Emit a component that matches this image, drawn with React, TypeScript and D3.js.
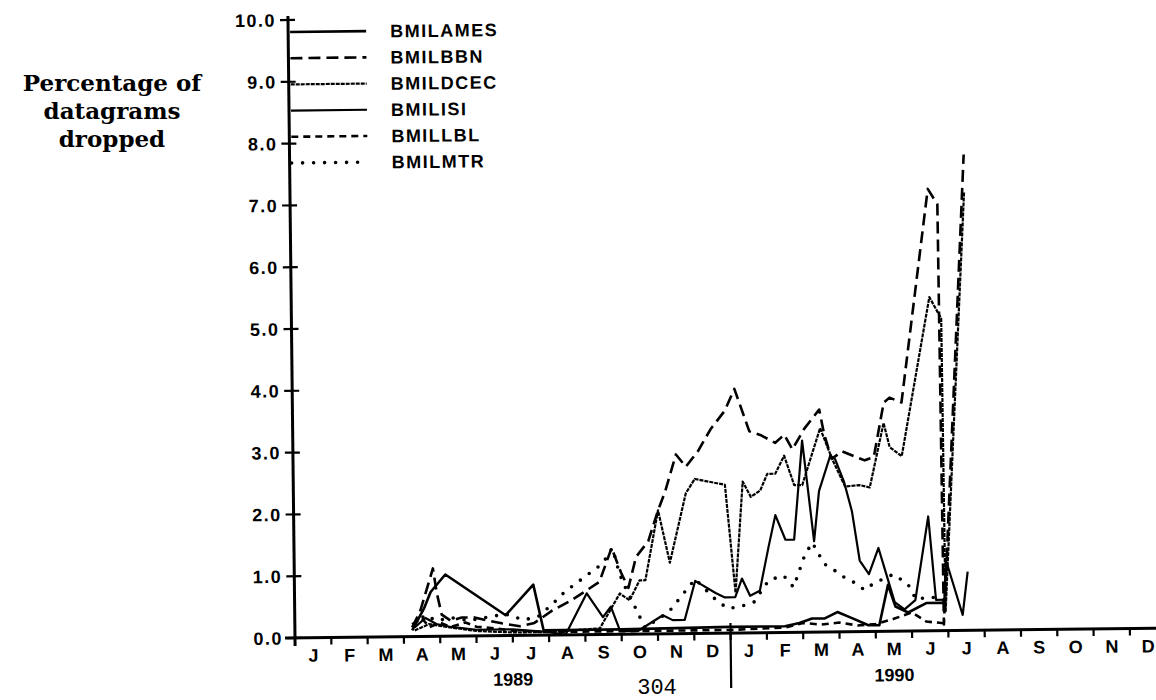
import React from 'react';
import * as d3 from 'd3';

// [months since 1 Jan 1989, percent of datagrams dropped]
type Pt = [number, number];

const monthLabels = ['J', 'F', 'M', 'A', 'M', 'J', 'J', 'A', 'S', 'O', 'N', 'D'];
const yearLabels = ['1989', '1990'];
const yearLabelMonth = [6, 16.5];
const yTicks = [0, 1, 2, 3, 4, 5, 6, 7, 8, 9, 10];
const seriesNames = ['BMILAMES', 'BMILBBN', 'BMILDCEC', 'BMILISI', 'BMILLBL', 'BMILMTR'];
const axisTitle = ['Percentage of', 'datagrams', 'dropped'];

const amesData: Pt[] = [
  [3.23, 0.1], [3.56, 0.45], [3.75, 0.72], [4.16, 1.0], [5.81, 0.33], [6.58, 0.82], [6.85, 0.08],
  [9, 0.08], [12, 0.1], [13.5, 0.1], [13.9, 0.15], [14.25, 0.22], [14.6, 0.22], [14.95, 0.32],
  [15.35, 0.22], [15.8, 0.1], [16.1, 0.1], [16.35, 0.75], [16.55, 0.4], [16.9, 0.3], [17.4, 0.45], [17.88, 0.45],
];

const bbnData: Pt[] = [
  [3.23, 0.15], [3.45, 0.4], [3.82, 1.1], [3.92, 0.7], [4.05, 0.35], [4.3, 0.25], [4.6, 0.3], [4.95, 0.3],
  [5.3, 0.25], [5.7, 0.2], [6.2, 0.15], [6.6, 0.2], [7.1, 0.4], [7.6, 0.55], [8.0, 0.7], [8.4, 0.85],
  [8.75, 1.4], [9.0, 1.0], [9.2, 0.75], [9.42, 1.25], [9.76, 1.5], [10.04, 2.0], [10.24, 2.3], [10.55, 2.9],
  [10.82, 2.7], [11.16, 2.95], [11.51, 3.3], [11.91, 3.6], [12.18, 3.95], [12.58, 3.26], [12.88, 3.2],
  [13.29, 3.07], [13.54, 3.2], [13.76, 2.96], [14.09, 3.29], [14.51, 3.6], [14.64, 3.2], [14.84, 2.8],
  [15.13, 2.92], [15.45, 2.84], [15.75, 2.77], [16.0, 2.82], [16.29, 3.7], [16.45, 3.78], [16.78, 3.7],
  [17.57, 7.15], [17.83, 6.9], [17.88, 0.1], [18.57, 7.7],
];

const dcecData: Pt[] = [
  [3.3, 0.1], [3.7, 0.2], [4.2, 0.15], [5, 0.08], [6, 0.05], [7, 0.05], [8.4, 0.1],
  [8.96, 0.66], [9.23, 0.55], [9.51, 0.87], [9.67, 0.87], [10.04, 2.0], [10.35, 1.15], [10.81, 2.27],
  [11.06, 2.5], [11.89, 2.4], [12.15, 0.65], [12.38, 2.45], [12.6, 2.2], [12.86, 2.3], [13.06, 2.57],
  [13.28, 2.57], [13.53, 2.86], [13.8, 2.38], [14.02, 2.38], [14.53, 3.3], [14.85, 2.8], [15.2, 2.35],
  [15.6, 2.37], [15.88, 2.33], [16.28, 3.37], [16.44, 2.98], [16.77, 2.83], [17.58, 5.4], [17.9, 5.05],
  [17.93, 0.3], [18.57, 7.1],
];

const isiData: Pt[] = [
  [3.3, 0.15], [3.6, 0.3], [3.9, 0.2], [4.3, 0.15], [5, 0.1], [6, 0.1], [7, 0.05],
  [7.45, 0.0], [8.05, 0.67], [8.49, 0.28], [8.71, 0.45], [8.96, 0.05], [9.45, 0.05], [10.14, 0.3],
  [10.41, 0.22], [10.74, 0.22], [11.04, 0.85], [11.6, 0.65], [11.84, 0.58], [12.14, 0.58], [12.33, 0.88],
  [12.55, 0.6], [12.82, 0.68], [13.07, 1.38], [13.27, 1.9], [13.54, 1.5], [13.78, 1.5], [14.03, 3.1],
  [14.33, 1.47], [14.48, 2.28], [14.8, 2.85], [14.93, 2.8], [15.17, 2.43], [15.38, 1.95], [15.58, 1.15],
  [15.83, 0.93], [16.1, 1.35], [16.32, 0.9], [16.53, 0.47], [16.8, 0.35], [17.1, 0.5], [17.48, 1.85],
  [17.67, 0.5], [17.9, 0.5], [17.95, 1.15], [18.4, 0.25], [18.55, 0.95],
];

const lblData: Pt[] = [
  [3.23, 0.2], [3.5, 0.3], [3.7, 0.15], [4.0, 0.22], [4.3, 0.15], [4.7, 0.22], [5.0, 0.15], [5.5, 0.12],
  [6.0, 0.08], [7, 0.05], [9, 0.05], [11, 0.05], [12, 0.05], [13.5, 0.08], [14.0, 0.15], [14.5, 0.12],
  [15.0, 0.15], [15.5, 0.1], [16.0, 0.12], [16.5, 0.2], [17.0, 0.3], [17.4, 0.15], [17.88, 0.12],
];

const mtrData: Pt[] = [
  [3.3, 0.2], [3.6, 0.35], [3.9, 0.25], [4.3, 0.3], [4.8, 0.25], [5.3, 0.3], [5.8, 0.35], [6.3, 0.25],
  [6.7, 0.3], [7.1, 0.5], [7.45, 0.7], [7.8, 0.85], [8.15, 1.0], [8.5, 1.15], [8.77, 1.4], [8.96, 0.98],
  [9.12, 0.75], [9.45, 0.35], [9.64, 0.1], [10.3, 0.35], [11.04, 0.88], [11.59, 0.55], [11.92, 0.4],
  [12.25, 0.42], [12.66, 0.5], [13.07, 0.85], [13.48, 0.92], [13.75, 0.73], [14.07, 1.25], [14.28, 1.45],
  [14.6, 1.1], [14.81, 1.03], [15.09, 0.9], [15.41, 0.8], [15.71, 0.67], [15.96, 0.78], [16.5, 0.92],
  [16.9, 0.76], [17.12, 0.51], [17.5, 0.55], [18.14, 0.47],
];

const allSeries = [amesData, bbnData, dcecData, isiData, lblData, mtrData];

// line look for each series, same order as seriesNames
const styles = [
  { width: 2.6, dash: undefined as string | undefined, cap: 'butt' },
  { width: 2.6, dash: '12 6', cap: 'butt' },
  { width: 2.2, dash: '4 1', cap: 'butt' },
  { width: 2.2, dash: undefined, cap: 'butt' },
  { width: 2.6, dash: '7 5', cap: 'butt' },
  { width: 3.6, dash: '0 11', cap: 'round' },
];

const labelFont = '"Liberation Sans", Arial, sans-serif';

const App = () => {
  const x = d3.scaleLinear().domain([0, 24]).range([295, 295 + 36.3 * 24]);
  const y = d3.scaleLinear().domain([0, 10]).range([638, 20]);
  const line = d3.line<Pt>().x(d => x(d[0])).y(d => y(d[1]));

  const x0 = x(0);
  const y0 = y(0);

  return (
    <svg width={1156} height={700} style={{ position: 'absolute', left: 0, top: 0, background: '#fff' }}>
      <g fontFamily='"DejaVu Serif", serif' fontWeight="bold" fontSize={23} textAnchor="middle" fill="#000">
        {axisTitle.map((t, i) => (
          <text key={t} x={112} y={91 + 28 * i}>{t}</text>
        ))}
      </g>

      {/* the scan is tilted a little */}
      <g transform={`rotate(-0.65 ${x0} ${y0})`}>
        {/* y axis */}
        <line x1={x0} x2={x0} y1={y(10) - 4} y2={y0 + 8} stroke="#000" strokeWidth={3} />
        {yTicks.map(v => (
          <g key={v}>
            <line x1={x0 - 8} x2={x0 + 7} y1={y(v)} y2={y(v)} stroke="#000" strokeWidth={2.2} />
            <text x={x0 - 12} y={y(v)} dy="0.36em" textAnchor="end" fontFamily={labelFont}
              fontWeight="bold" fontSize={18} letterSpacing={1.5}>{v.toFixed(1)}</text>
          </g>
        ))}

        {/* x axis */}
        <line x1={x0 - 10} x2={1200} y1={y0} y2={y0} stroke="#000" strokeWidth={3} />
        {d3.range(1, 25).map(m => (
          <line key={m} x1={x(m)} x2={x(m)} y1={y0} y2={y0 + 7} stroke="#000" strokeWidth={2.2} />
        ))}
        {d3.range(24).map(m => (
          <text key={m} x={x(m + 0.5)} y={y0 + 24} textAnchor="middle" fontFamily={labelFont}
            fontWeight="bold" fontSize={18}>{monthLabels[m % 12]}</text>
        ))}
        {yearLabels.map((t, i) => (
          <text key={t} x={x(yearLabelMonth[i])} y={y0 + 50} textAnchor="middle" fontFamily={labelFont}
            fontWeight="bold" fontSize={18}>{t}</text>
        ))}
        <line x1={x(12)} x2={x(12)} y1={y0 - 10} y2={y0 + 55} stroke="#000" strokeWidth={2.2} />

        {/* series */}
        {allSeries.map((data, i) => (
          <path key={seriesNames[i]} d={line(data) || ''} fill="none" stroke="#000"
            strokeWidth={styles[i].width} strokeDasharray={styles[i].dash}
            strokeLinecap={styles[i].cap as any} strokeLinejoin="round" />
        ))}

        {/* legend */}
        {seriesNames.map((name, i) => {
          const ly = 32 + 26.2 * i;
          return (
            <g key={name}>
              <line x1={x0 + 2} x2={x0 + 78} y1={ly} y2={ly} stroke="#000"
                strokeWidth={styles[i].width} strokeDasharray={styles[i].dash}
                strokeLinecap={styles[i].cap as any} />
              <text x={x0 + 102} y={ly} dy="0.36em" fontFamily={labelFont} fontWeight="bold"
                fontSize={18} letterSpacing={1.5}>{name}</text>
            </g>
          );
        })}
      </g>

      <text x={657} y={694} textAnchor="middle" fontFamily='"Liberation Mono", "DejaVu Sans Mono", monospace'
        fontSize={22}>304</text>
    </svg>
  );
};

export default App;
